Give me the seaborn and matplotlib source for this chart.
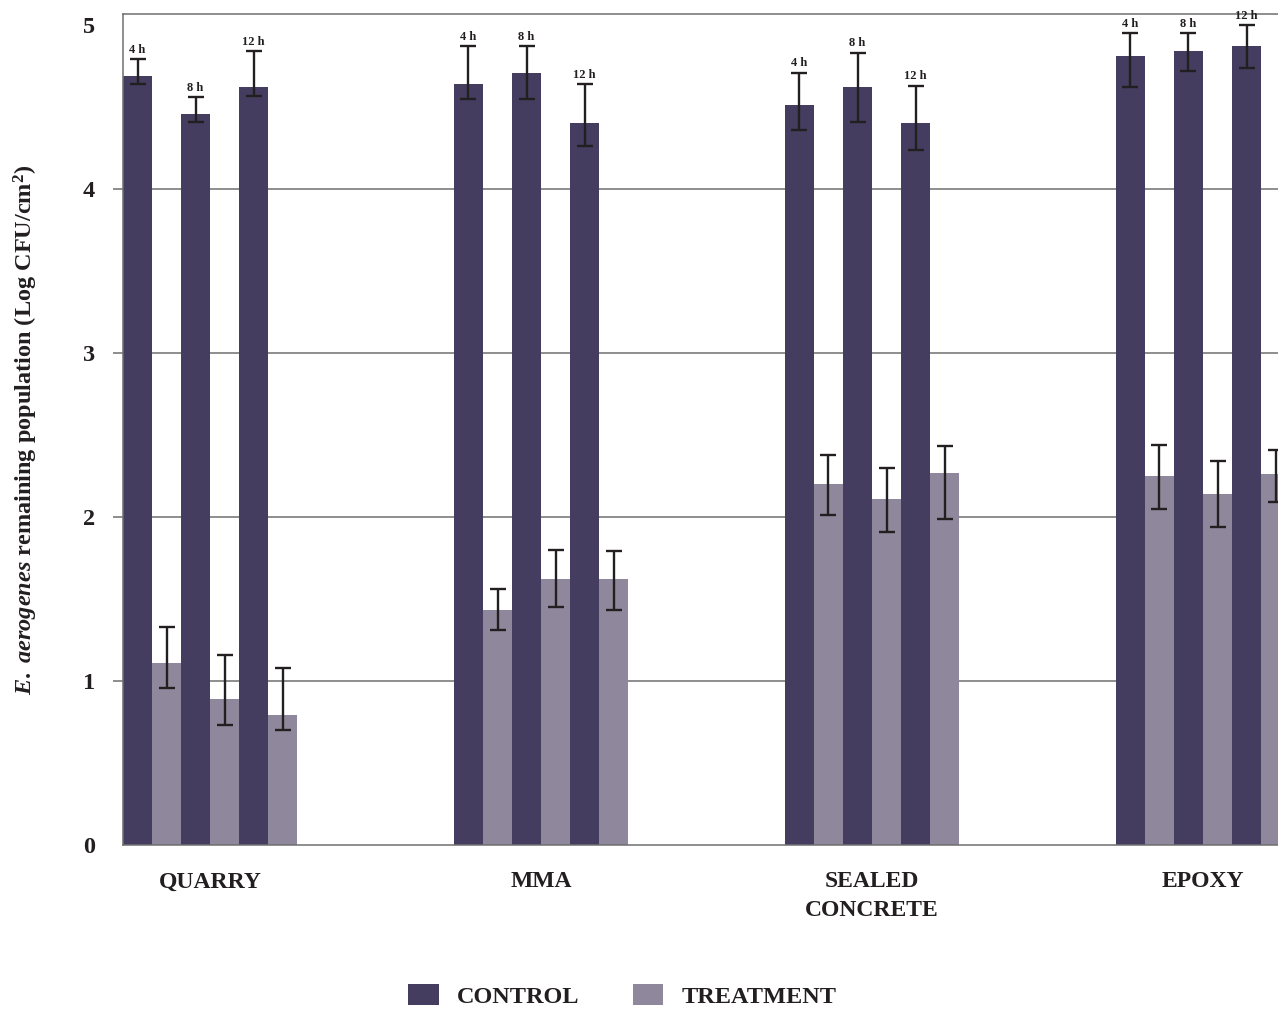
import numpy as np
import pandas as pd
import matplotlib
matplotlib.use("Agg")
import matplotlib.pyplot as plt
import seaborn as sns
from matplotlib.patches import Patch

# ---------------- data ----------------
surfaces = ["QUARRY", "MMA", "SEALED\nCONCRETE", "EPOXY"]
times = ["4 h", "8 h", "12 h"]
conditions = ["CONTROL", "TREATMENT"]

control_mean = [[4.69, 4.46, 4.62], [4.64, 4.71, 4.40], [4.51, 4.62, 4.40], [4.81, 4.84, 4.87]]
control_upper = [[4.79, 4.56, 4.84], [4.87, 4.87, 4.64], [4.71, 4.83, 4.63], [4.95, 4.95, 5.00]]
control_lower = [[4.64, 4.41, 4.57], [4.55, 4.55, 4.26], [4.36, 4.41, 4.24], [4.62, 4.72, 4.74]]

treatment_mean = [[1.11, 0.89, 0.79], [1.43, 1.62, 1.62], [2.20, 2.11, 2.27], [2.25, 2.14, 2.26]]
treatment_upper = [[1.33, 1.16, 1.08], [1.56, 1.80, 1.79], [2.38, 2.30, 2.43], [2.44, 2.34, 2.41]]
treatment_lower = [[0.96, 0.73, 0.70], [1.31, 1.45, 1.43], [2.01, 1.91, 1.99], [2.05, 1.94, 2.09]]

y_ticks = [0, 1, 2, 3, 4, 5]

# ---------------- style ----------------
CONTROL_COLOR = "#453d5f"
TREATMENT_COLOR = "#8f879c"
ERR_COLOR = "#231f20"
GRID_COLOR = "#6f6f6f"
TEXT_COLOR = "#231f20"

sns.set_style("white")
plt.rcParams["font.family"] = ["Liberation Serif", "DejaVu Serif"]
plt.rcParams["mathtext.fontset"] = "custom"
plt.rcParams["mathtext.it"] = "Liberation Serif:italic:bold"
plt.rcParams["mathtext.rm"] = "Liberation Serif:bold"
plt.rcParams["mathtext.bf"] = "Liberation Serif:bold"

# ---------------- long table ----------------
rows = []
for si, s in enumerate(surfaces):
    for ti, t in enumerate(times):
        rows.append(dict(surface=s, series=f"{t} CONTROL", value=control_mean[si][ti],
                         lo=control_lower[si][ti], hi=control_upper[si][ti], time=t, cond="CONTROL"))
        rows.append(dict(surface=s, series=f"{t} TREATMENT", value=treatment_mean[si][ti],
                         lo=treatment_lower[si][ti], hi=treatment_upper[si][ti], time=t, cond="TREATMENT"))
df = pd.DataFrame(rows)

hue_order = [f"{t} {c}" for t in times for c in conditions]
palette = {h: (CONTROL_COLOR if h.endswith("CONTROL") else TREATMENT_COLOR) for h in hue_order}

W, H = 1278, 1009
fig = plt.figure(figsize=(W / 100, H / 100), dpi=100)
ax = fig.add_axes([123 / W, 1 - 845 / H, 1 - 123 / W, (845 - 14) / H])

group_width = 0.526
sns.barplot(data=df, x="surface", y="value", hue="series", order=surfaces,
            hue_order=hue_order, palette=palette, width=group_width, gap=0,
            errorbar=None, legend=False, saturation=1, linewidth=0, ax=ax, zorder=2)

# error bars and time labels, positioned from the drawn bars
bar_containers = list(ax.containers)
for ci, cont in enumerate(bar_containers):
    series = hue_order[ci]
    sub = df[df["series"] == series].set_index("surface").loc[surfaces]
    xs = [b.get_x() + b.get_width() / 2 for b in cont]
    means = sub["value"].to_numpy()
    lows = means - sub["lo"].to_numpy()
    highs = sub["hi"].to_numpy() - means
    ax.errorbar(xs, means, yerr=[lows, highs], fmt="none", ecolor=ERR_COLOR,
                elinewidth=1.7, capsize=5.8, capthick=1.7, zorder=4)
    if series.endswith("CONTROL"):
        for x, top, t in zip(xs, sub["hi"].to_numpy(), sub["time"]):
            ax.annotate(t, (x, top), xytext=(0, 2.5), textcoords="offset points",
                        ha="center", va="bottom", fontsize=9, fontweight="bold",
                        color=TEXT_COLOR, annotation_clip=False)

# axes limits
ax.set_xlim(-group_width / 2, 3 + (1278 - 1203) / 331)
ax.set_ylim(0, 5.067)

ax.set_yticks(y_ticks)
ax.set_yticklabels([str(v) for v in y_ticks], fontsize=17.5, fontweight="bold", color=TEXT_COLOR)
ax.tick_params(axis="y", length=7.2, width=1.1, color=GRID_COLOR, pad=13, direction="out", left=True)
ax.tick_params(axis="x", length=0, pad=19, labelsize=17)
for lab in ax.get_xticklabels():
    lab.set_fontweight("bold")
    lab.set_color(TEXT_COLOR)
    lab.set_linespacing(1.45)
ax.set_xlabel("")

ax.yaxis.grid(True, color=GRID_COLOR, linewidth=1.1, zorder=0)
ax.set_axisbelow(True)
gl = ax.get_ygridlines()
gl[0].set_visible(False)
gl[-1].set_visible(False)
ticks = ax.yaxis.get_major_ticks()
ticks[0].tick1line.set_visible(False)
ticks[-1].tick1line.set_visible(False)

for side in ["left", "top", "bottom"]:
    ax.spines[side].set_color(GRID_COLOR)
    ax.spines[side].set_linewidth(1.1)
ax.spines["right"].set_visible(False)

ax.set_ylabel(r"$\it{E.\ aerogenes}$ remaining population (Log CFU/cm$^{2}$)",
              fontsize=17.5, fontweight="bold", color=TEXT_COLOR)
ax.yaxis.set_label_coords(-(123 - 40) / (W - 123), 0.5)

handles = [Patch(facecolor=CONTROL_COLOR, edgecolor="none"),
           Patch(facecolor=TREATMENT_COLOR, edgecolor="none")]
fig.legend(handles, conditions, loc="center", bbox_to_anchor=(0.487, 0.0125),
           ncol=2, frameon=False, handlelength=1.25, handleheight=0.95,
           handletextpad=0.75, columnspacing=2.2,
           prop={"family": "Liberation Serif", "weight": "bold", "size": 17.5},
           labelcolor=TEXT_COLOR)

fig.savefig("out.png", dpi=100)
